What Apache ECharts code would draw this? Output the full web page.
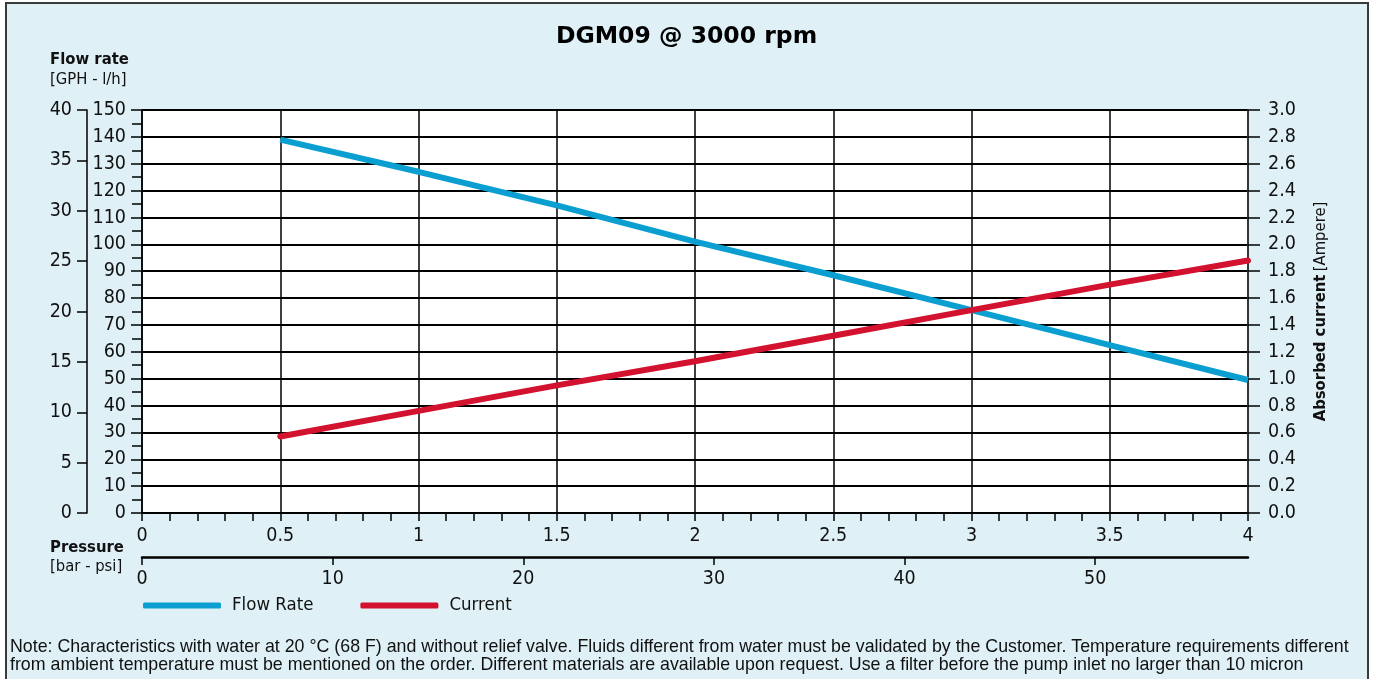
<!DOCTYPE html>
<html>
<head>
<meta charset="utf-8">
<script src="https://cdn.jsdelivr.net/npm/echarts@6/dist/echarts.min.js"></script>
<style>
  html, body { margin:0; padding:0; background:#fff; width:1373px; height:679px; overflow:hidden; }
  #frame { position:absolute; left:5px; top:2px; width:1360px; height:690px; background:#DFF0F7; border:2px solid #3a3a3a; }
  #chart { position:absolute; left:0; top:0; width:1373px; height:679px; }
</style>
</head>
<body>
<div id="frame"></div>
<div id="chart"></div>
<script>
// ---- data ----
const title = 'DGM09 @ 3000 rpm';
const pressureBar = [0.5, 1, 1.5, 2, 2.5, 3, 3.5, 4];
const flowLh = [139, 127, 114.5, 101, 88.5, 75.5, 62.5, 49.5];
const currentA = [0.57, 0.76, 0.95, 1.13, 1.32, 1.51, 1.70, 1.88];
const psiTicks = [0, 10, 20, 30, 40, 50];
const seriesNames = ['Flow Rate', 'Current'];
const noteLines = [
  'Note: Characteristics with water at 20 °C (68 F) and without relief valve. Fluids different from water must be validated by the Customer. Temperature requirements different',
  'from ambient temperature must be mentioned on the order. Different materials are available upon request. Use a filter before the pump inlet no larger than 10 micron'
];

const COND = "'Liberation Sans Narrow', 'DejaVu Sans Condensed', 'Roboto', sans-serif";
const REG = "'Liberation Sans', Arial, sans-serif";
const BLUE = '#0a9fd0', RED = '#d2122e';
const lbl = { color:'#111', fontFamily: COND, fontSize: 19.5 };

const chart = echarts.init(document.getElementById('chart'));
chart.setOption({
  animation: false,
  backgroundColor: 'transparent',
  title: { text: title, left: 'center', top: 20,
    textStyle: { fontFamily: "'DejaVu Sans', sans-serif", fontWeight: 'bold', fontSize: 23.5, color:'#000' } },
  grid: { left: 142, right: 125, top: 110, bottom: 166, show: true, backgroundColor: '#fff', borderWidth: 0 },
  legend: {
    left: 138, top: 591, itemWidth: 78, itemHeight: 6, itemGap: 47, icon: 'roundRect',
    textStyle: { fontFamily: COND, fontSize: 18.5, color:'#111', padding: [0,0,0,6] },
    data: seriesNames
  },
  xAxis: [
    { type:'value', min:0, max:4, interval:0.5, position:'bottom',
      axisLine:{ show:true, onZero:false, lineStyle:{ color:'#000', width:1.5 } },
      axisTick:{ show:true, inside:false, length:8, lineStyle:{ color:'#000', width:1.5 } },
      minorTick:{ show:true, splitNumber:5, length:8, lineStyle:{ color:'#000', width:1.5 } },
      axisLabel:{ ...lbl, margin:13 },
      splitLine:{ show:true, lineStyle:{ color:'#000', width:1.5 } } },
    { type:'value', min:0, max:4*14.5038, position:'bottom', offset:44,
      axisLine:{ show:true, onZero:false, lineStyle:{ color:'#000', width:2.5 } },
      axisTick:{ show:true, inside:false, length:8, customValues: psiTicks, lineStyle:{ color:'#000', width:1.5 } },
      axisLabel:{ ...lbl, margin:12, customValues: psiTicks },
      splitLine:{ show:false } }
  ],
  yAxis: [
    { type:'value', min:0, max:150, interval:10, position:'left',
      axisLine:{ show:true, onZero:false, lineStyle:{ color:'#000', width:1.5 } },
      axisTick:{ show:true, length:11, lineStyle:{ color:'#000', width:1.5 } },
      minorTick:{ show:true, splitNumber:2, length:10, lineStyle:{ color:'#000', width:1.5 } },
      axisLabel:{ ...lbl, margin:16 },
      splitLine:{ show:true, lineStyle:{ color:'#000', width:2 } } },
    { type:'value', min:0, max:40, interval:5, position:'left', offset:55,
      axisLine:{ show:true, onZero:false, lineStyle:{ color:'#000', width:1.5 } },
      axisTick:{ show:true, length:10, lineStyle:{ color:'#000', width:1.5 } },
      axisLabel:{ ...lbl, margin:15 },
      splitLine:{ show:false } },
    { type:'value', min:0, max:3, interval:0.2, position:'right',
      name:'{b|Absorbed current} {n|[Ampere]}', nameLocation:'middle', nameRotate:90, nameGap:64,
      nameTextStyle:{ rich:{ b:{ fontFamily:COND, fontWeight:'bold', fontSize:16.5, color:'#111' },
                             n:{ fontFamily:COND, fontSize:16.5, color:'#111' } } },
      axisLine:{ show:true, onZero:false, lineStyle:{ color:'#333', width:1.5 } },
      axisTick:{ show:true, length:12, lineStyle:{ color:'#000', width:1.5 } },
      axisLabel:{ ...lbl, margin:20, formatter: v => v.toFixed(1) },
      splitLine:{ show:false } }
  ],
  graphic: [
    { type:'text', left:50, top:51, style:{ text:'Flow rate', font:"bold 16.5px " + COND, fill:'#111' } },
    { type:'text', left:50, top:71, style:{ text:'[GPH - l/h]', font:"16.5px " + COND, fill:'#111' } },
    { type:'text', left:50, top:539, style:{ text:'Pressure', font:"bold 16.5px " + COND, fill:'#111' } },
    { type:'text', left:50, top:558, style:{ text:'[bar - psi]', font:"16.5px " + COND, fill:'#111' } },
    { type:'text', left:10, top:638, style:{ text:noteLines[0], font:"17.8px " + REG, fill:'#111' } },
    { type:'text', left:10, top:656, style:{ text:noteLines[1], font:"17.8px " + REG, fill:'#111' } }
  ],
  series: [
    { name: seriesNames[0], type:'line', xAxisIndex:0, yAxisIndex:0, symbol:'none', color:BLUE,
      lineStyle:{ width:6, cap:'butt' }, data: pressureBar.map((p,i)=>[p, flowLh[i]]) },
    { name: seriesNames[1], type:'line', xAxisIndex:0, yAxisIndex:2, symbol:'none', color:RED,
      lineStyle:{ width:6, cap:'round' }, data: pressureBar.map((p,i)=>[p, currentA[i]]) }
  ]
});
</script>
</body>
</html>
